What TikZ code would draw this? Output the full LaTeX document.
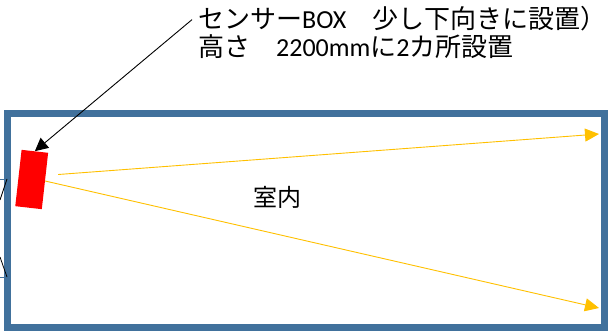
\documentclass[tikz,border=0pt]{standalone}
\usepackage{fontspec}
\usepackage{xcolor}
\usetikzlibrary{arrows.meta, calc}
\newfontfamily\jpfont{Noto Sans CJK JP}
\newfontfamily\latfont{Carlito}
\definecolor{roomblue}{RGB}{65,113,156}
\definecolor{beamyellow}{RGB}{255,192,0}

\tikzset{
	roomwall/.style={draw=roomblue, line width=7pt},
	sensorbox/.style={fill=red, inner sep=0pt, minimum width=26.7pt, minimum height=56.7pt},
	beam/.style={draw=beamyellow, line width=0.9pt, -{Triangle[length=14pt, width=13pt]}},
	pointer/.style={draw=black, line width=0.9pt, -{Triangle[length=13pt, width=13pt]}},
}

\begin{document}
\begin{tikzpicture}[x=1pt, y=-1pt]
		\useasboundingbox (0,0) rectangle (608,334);

		% room
		\draw[roomwall] (7,113.5) rectangle (604.5,327.5);
		\node[font=\jpfont\fontsize{24}{28}\selectfont] (room) at (277.7,197.5) {室内};

		% door marks on the left wall
		\draw[roomblue, line width=0.8pt] (0,179) -- (7,179);
		\draw[roomblue, line width=0.8pt] (0,277) -- (7,277);
		\draw[line width=0.8pt] (7,179) -- (0,200);
		\draw[line width=0.8pt] (0,257) -- (7,277);

		% sensor
		\node[sensorbox, rotate=-6.4] (sensor) at (31.7,179.5) {};

		% beams
		\coordinate (farA) at (599,134);
		\coordinate (farB) at (599,308);
		\draw[beam] ([xshift=13pt, yshift=6.5pt]sensor.east) -- (farA);
		\draw[beam] (sensor.east) -- (farB);

		% label
		\node[anchor=north west, inner sep=0pt, align=left,
			font=\jpfont\fontsize{26}{27.5}\selectfont] (label) at (198,6.5)
			{センサー{\latfont BOX}　少し下向きに設置）\\
			高さ　{\latfont 2200mm}に{\latfont 2}カ所設置};
		\draw[pointer] ([xshift=-6pt, yshift=13pt]label.west) -- (sensor.north);
	\end{tikzpicture}
\end{document}
